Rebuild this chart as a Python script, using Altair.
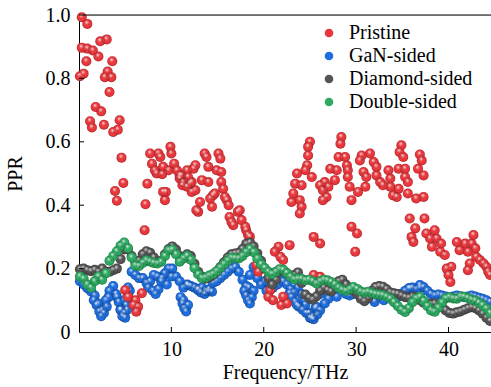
import altair as alt
import pandas as pd

SERIES = ["Pristine", "GaN-sided", "Diamond-sided", "Double-sided"]
COLORS = ["#e8383d", "#1f6fe0", "#555555", "#2eaa62"]

FREQ = [0.1, 0.5, 0.9, 1.3, 1.7, 2.1, 2.5, 2.9, 3.3, 3.7, 4.1, 4.5, 4.9, 5.3, 5.7, 6.1,
        6.5, 6.9, 7.3, 7.7, 8.1, 8.5, 8.9, 9.3, 9.7, 10.1, 10.5, 10.9, 11.3, 11.7, 12.1,
        12.5, 12.9, 13.3, 13.7, 14.1, 14.5, 14.9, 15.3, 15.7, 16.1, 16.5, 16.9, 17.3,
        17.7, 18.1, 18.5, 18.9, 19.3, 19.7, 20.1, 20.5, 20.9, 21.3, 21.7, 22.1, 22.5,
        22.9, 23.3, 23.7, 24.1, 24.5, 24.9, 25.3, 25.7, 26.1, 26.5, 26.9, 27.3, 27.7,
        28.1, 28.5, 28.9, 29.3, 29.7, 30.1, 30.5, 30.9, 31.3, 31.7, 32.1, 32.5, 32.9,
        33.3, 33.7, 34.1, 34.5, 34.9, 35.3, 35.7, 36.1, 36.5, 36.9, 37.3, 37.7, 38.1,
        38.5, 38.9, 39.3, 39.7, 40.1, 40.5, 40.9, 41.3, 41.7, 42.1, 42.5, 42.9, 43.3,
        43.7, 44.1, 44.5]

DOUBLE = [0.175, 0.168, 0.15, 0.14, 0.16, 0.175, 0.165, 0.185, 0.225, 0.24, 0.255, 0.272,
          0.282, 0.265, 0.235, 0.21, 0.208, 0.218, 0.226, 0.222, 0.218, 0.216, 0.222, 0.24,
          0.258, 0.26, 0.245, 0.222, 0.232, 0.24, 0.228, 0.202, 0.182, 0.17, 0.172, 0.178,
          0.183, 0.192, 0.203, 0.214, 0.225, 0.234, 0.233, 0.232, 0.24, 0.252, 0.262, 0.252,
          0.232, 0.214, 0.202, 0.19, 0.183, 0.19, 0.198, 0.196, 0.186, 0.174, 0.166, 0.168,
          0.168, 0.163, 0.165, 0.16, 0.153, 0.16, 0.165, 0.163, 0.158, 0.15, 0.14, 0.133,
          0.13, 0.135, 0.142, 0.136, 0.128, 0.125, 0.127, 0.123, 0.12, 0.118, 0.116, 0.111,
          0.105, 0.094, 0.082, 0.07, 0.063, 0.075, 0.094, 0.106, 0.111, 0.098, 0.082, 0.068,
          0.064, 0.077, 0.093, 0.106, 0.11, 0.106, 0.105, 0.112, 0.111, 0.107, 0.102, 0.099,
          0.092, 0.084, 0.074, 0.06]

DIAMOND = [0.198, 0.2, 0.195, 0.192, 0.196, 0.19, 0.2, 0.19, 0.19, 0.195, 0.2, 0.23,
           0.26, 0.262, 0.24, 0.22, 0.225, 0.245, 0.255, 0.25, 0.235, 0.222, 0.225, 0.245,
           0.262, 0.27, 0.26, 0.24, 0.232, 0.245, 0.24, 0.215, 0.19, 0.175, 0.168, 0.172,
           0.18, 0.19, 0.205, 0.22, 0.235, 0.245, 0.248, 0.25, 0.262, 0.278, 0.282, 0.27,
           0.248, 0.225, 0.2, 0.17, 0.15, 0.165, 0.19, 0.195, 0.185, 0.175, 0.18, 0.188,
           0.155, 0.118, 0.108, 0.102, 0.112, 0.13, 0.14, 0.132, 0.128, 0.145, 0.16, 0.165,
           0.15, 0.138, 0.13, 0.12, 0.105, 0.097, 0.108, 0.13, 0.142, 0.145, 0.143, 0.135,
           0.125, 0.122, 0.12, 0.115, 0.11, 0.108, 0.112, 0.11, 0.1, 0.092, 0.09, 0.088,
           0.09, 0.085, 0.078, 0.068, 0.06, 0.058, 0.062, 0.065, 0.07, 0.075, 0.078, 0.075,
           0.068, 0.058, 0.045, 0.035]

GAN = [0.16, 0.15, 0.138, 0.128, 0.115, 0.09, 0.07, 0.1, 0.13, 0.145, 0.11, 0.07, 0.1,
       0.14, 0.19, 0.18, 0.17, 0.17, 0.155, 0.16, 0.18, 0.175, 0.16, 0.185, 0.2, 0.2,
       0.175, 0.16, 0.14, 0.15, 0.145, 0.14, 0.135, 0.14, 0.13, 0.135, 0.155, 0.16, 0.17,
       0.18, 0.19, 0.2, 0.205, 0.19, 0.165, 0.145, 0.18, 0.205, 0.17, 0.15, 0.16, 0.155,
       0.15, 0.16, 0.175, 0.16, 0.15, 0.135, 0.125, 0.14, 0.12, 0.085, 0.06, 0.05, 0.08,
       0.12, 0.14, 0.135, 0.13, 0.135, 0.14, 0.135, 0.12, 0.115, 0.12, 0.125, 0.12, 0.115,
       0.11, 0.105, 0.11, 0.12, 0.125, 0.12, 0.11, 0.105, 0.11, 0.12, 0.13, 0.138, 0.14,
       0.135, 0.14, 0.142, 0.13, 0.12, 0.115, 0.118, 0.115, 0.112, 0.11, 0.112, 0.115,
       0.113, 0.11, 0.112, 0.115, 0.112, 0.108, 0.105, 0.1, 0.095]

GAN_EXTRA = [(1.6, 0.1), (1.9, 0.085), (2.2, 0.065), (2.4, 0.05), (2.7, 0.06), (3.0, 0.08),
             (3.2, 0.11), (4.0, 0.12), (4.3, 0.095), (4.5, 0.07), (4.7, 0.05), (4.9, 0.06),
             (5.1, 0.085), (5.3, 0.11), (5.5, 0.13), (5.2, 0.07), (5.0, 0.045),
             (7.5, 0.14), (8.0, 0.13), (8.3, 0.12), (8.6, 0.135), (9.0, 0.17), (9.5, 0.15),
             (10.0, 0.175), (11.0, 0.11), (11.2, 0.09), (11.4, 0.075), (11.6, 0.065),
             (11.3, 0.1), (11.8, 0.085), (11.8, 0.148), (12.9, 0.132), (13.2, 0.125),
             (13.6, 0.12), (14.0, 0.128), (14.4, 0.127), (17.9, 0.13), (18.1, 0.115),
             (18.3, 0.1), (18.5, 0.09), (18.7, 0.11), (18.9, 0.13), (18.4, 0.14),
             (20.3, 0.13), (21.0, 0.14), (21.5, 0.15), (22.8, 0.122), (23.0, 0.11),
             (23.4, 0.095), (23.6, 0.085), (23.8, 0.08), (24.2, 0.07), (24.6, 0.06),
             (25.0, 0.045), (25.2, 0.043), (25.4, 0.04), (25.8, 0.055), (26.1, 0.069),
             (26.6, 0.09), (27.0, 0.105), (27.9, 0.111), (24.4, 0.1), (25.6, 0.075),
             (32.0, 0.095), (33.0, 0.1), (36.9, 0.148), (35.8, 0.138)]

PRISTINE = [(0.1, 0.807), (0.3, 0.993), (0.9, 0.972), (0.3, 0.897), (0.5, 0.815), (0.8, 0.854),
            (0.9, 0.894), (1.5, 0.888), (2.1, 0.869), (2.3, 0.917), (3.0, 0.923), (3.6, 0.854),
            (3.1, 0.822), (2.8, 0.804), (3.5, 0.804), (3.3, 0.757), (1.8, 0.71), (2.4, 0.696),
            (1.2, 0.665), (1.4, 0.645), (2.7, 0.654), (4.4, 0.668), (3.7, 0.631), (4.2, 0.638),
            (4.6, 0.55), (4.8, 0.47), (3.9, 0.445), (4.1, 0.414),
            (5.0, 0.132), (5.3, 0.111), (6.8, 0.122), (6.1, 0.1), (6.4, 0.08), (6.2, 0.064),
            (5.9, 0.085), (7.1, 0.321), (7.2, 0.403), (7.4, 0.468),
            (7.7, 0.563), (7.9, 0.531), (8.2, 0.51), (8.4, 0.5), (8.6, 0.563), (8.8, 0.552),
            (9.0, 0.498), (9.1, 0.521), (9.7, 0.51), (9.9, 0.584), (10.0, 0.563), (10.3, 0.531),
            (10.6, 0.51), (10.9, 0.494), (11.2, 0.463), (11.3, 0.473), (11.7, 0.51), (11.8, 0.489),
            (12.0, 0.468), (12.2, 0.473), (12.4, 0.515), (12.6, 0.526), (12.6, 0.447), (13.1, 0.41),
            (12.9, 0.379), (12.7, 0.384), (13.3, 0.479), (13.6, 0.563), (13.8, 0.552), (14.0, 0.521),
            (14.0, 0.473), (14.2, 0.421), (14.4, 0.395), (14.5, 0.431), (14.7, 0.437), (14.9, 0.51),
            (15.1, 0.563), (15.3, 0.547), (15.4, 0.505), (15.4, 0.473), (15.6, 0.452), (15.8, 0.426),
            (16.0, 0.416), (16.2, 0.4), (16.3, 0.363), (16.5, 0.347), (16.7, 0.337), (17.2, 0.379),
            (17.4, 0.384), (17.6, 0.353), (18.0, 0.332), (18.1, 0.321), (18.3, 0.306), (18.5, 0.3),
            (9.1, 0.442), (9.3, 0.416), (9.4, 0.442), (10.9, 0.484), (11.7, 0.458), (12.2, 0.442),
            (11.1, 0.494),
            (19.2, 0.211), (19.4, 0.19), (21.2, 0.253), (21.6, 0.269), (21.8, 0.237), (22.1, 0.227),
            (22.8, 0.274), (20.7, 0.132), (20.5, 0.111), (21.0, 0.1), (21.9, 0.085), (22.1, 0.111),
            (22.5, 0.09),
            (25.0, 0.6), (24.8, 0.584), (28.4, 0.615), (28.3, 0.594), (24.8, 0.557), (24.7, 0.526),
            (24.5, 0.51), (23.6, 0.5), (23.4, 0.468), (24.1, 0.463), (25.2, 0.489), (23.2, 0.437),
            (23.0, 0.41), (23.9, 0.416), (24.1, 0.395), (23.9, 0.374), (28.1, 0.552), (28.8, 0.552),
            (27.2, 0.515), (27.9, 0.51), (29.0, 0.526), (29.1, 0.51), (29.1, 0.489), (27.7, 0.479),
            (26.6, 0.473), (27.0, 0.458), (26.4, 0.447), (26.8, 0.426), (26.4, 0.416), (29.3, 0.458),
            (29.5, 0.416), (30.2, 0.442), (31.0, 0.458), (30.6, 0.557), (30.4, 0.541), (31.5, 0.563),
            (31.9, 0.536), (30.8, 0.505), (31.1, 0.489), (32.2, 0.521), (32.2, 0.494), (26.1, 0.463),
            (25.4, 0.3), (26.1, 0.279), (29.5, 0.332), (30.1, 0.311), (29.9, 0.253), (25.4, 0.18),
            (26.1, 0.174),
            (34.9, 0.589), (34.7, 0.568), (35.1, 0.552), (36.9, 0.56), (37.1, 0.541), (36.7, 0.515),
            (37.3, 0.494), (32.6, 0.473), (33.5, 0.51), (33.7, 0.484), (34.6, 0.515), (35.3, 0.515),
            (35.3, 0.489), (35.6, 0.473), (32.9, 0.463), (33.7, 0.458), (34.6, 0.452), (34.0, 0.431),
            (34.4, 0.426), (35.6, 0.437), (36.5, 0.421), (37.3, 0.426), (35.8, 0.358), (37.4, 0.358),
            (36.4, 0.327), (36.0, 0.3), (36.2, 0.284), (37.6, 0.311), (38.0, 0.295), (38.5, 0.321),
            (38.7, 0.295), (38.2, 0.269), (39.2, 0.279), (39.6, 0.243), (39.1, 0.253), (39.8, 0.2),
            (40.3, 0.206), (40.0, 0.18), (40.2, 0.158), (40.9, 0.284), (41.8, 0.279), (42.7, 0.306),
            (42.5, 0.279), (42.1, 0.253), (42.9, 0.264), (41.2, 0.258), (42.3, 0.216), (42.1, 0.195),
            (43.0, 0.237), (43.4, 0.227), (43.8, 0.216), (44.1, 0.206), (44.3, 0.19), (44.5, 0.18)]

X_TICKS = [10, 20, 30, 40]
Y_TICKS = [0.2, 0.4, 0.6, 0.8]

W, H = 412, 317
FONT = "Liberation Serif"

df_pristine = pd.DataFrame({"f": [p[0] for p in PRISTINE], "v": [p[1] for p in PRISTINE],
                            "series": "Pristine"})
df_gan = pd.DataFrame({"f": FREQ + [p[0] for p in GAN_EXTRA],
                       "v": GAN + [p[1] for p in GAN_EXTRA], "series": "GaN-sided"})
df_diamond = pd.DataFrame({"f": FREQ, "v": DIAMOND, "series": "Diamond-sided"})
df_double = pd.DataFrame({"f": FREQ, "v": DOUBLE, "series": "Double-sided"})

x_enc = alt.X("f:Q", scale=alt.Scale(domain=[0, 44.6], nice=False, zero=False),
              axis=alt.Axis(values=X_TICKS, title="Frequency/THz", tickSize=0, labelPadding=7,
                            titlePadding=3, grid=False, domainColor="black", labelColor="black",
                            titleColor="black", labelFontSize=20, titleFontSize=20,
                            titleFontWeight="normal", labelFont=FONT, titleFont=FONT))
y_enc = alt.Y("v:Q", scale=alt.Scale(domain=[0, 1], nice=False, zero=False),
              axis=alt.Axis(values=[0, 0.2, 0.4, 0.6, 0.8, 1.0],
                            labelExpr="datum.value == 0 ? '0' : format(datum.value, '.1f')",
                            title="PPR", tickSize=0, labelPadding=9, titlePadding=20,
                            grid=False, domainColor="black", labelColor="black",
                            titleColor="black", labelFontSize=20, titleFontSize=20,
                            titleFontWeight="normal", labelFont=FONT, titleFont=FONT))

color_enc = alt.Color("series:N", scale=alt.Scale(domain=SERIES, range=COLORS),
                      sort=SERIES,
                      legend=alt.Legend(title=None, orient="none", legendX=240, legendY=8,
                                        labelFontSize=20, labelFont=FONT, labelColor="black",
                                        symbolSize=75, symbolType="circle", rowPadding=3,
                                        labelOffset=10, padding=0, symbolStrokeWidth=0))

SHINE = {
    "gradient": "radial",
    "x1": 0.42, "y1": 0.3, "r1": 0,
    "x2": 0.5, "y2": 0.5, "r2": 0.5,
    "stops": [
        {"offset": 0, "color": "rgba(255,255,255,0.95)"},
        {"offset": 0.22, "color": "rgba(255,255,255,0.45)"},
        {"offset": 0.45, "color": "rgba(255,255,255,0)"},
        {"offset": 0.8, "color": "rgba(0,0,0,0)"},
        {"offset": 1, "color": "rgba(0,0,0,0.28)"},
    ],
}

SIZE = 100


def spheres(df):
    base = alt.Chart(df).mark_circle(size=SIZE, opacity=1).encode(x=x_enc, y=y_enc, color=color_enc)
    shine = alt.Chart(df).mark_circle(size=SIZE, opacity=1, fill=SHINE).encode(x=x_enc, y=y_enc)
    return [base, shine]


xticks = alt.Chart(pd.DataFrame({"f": X_TICKS})).mark_rule(color="black", strokeWidth=1).encode(
    x=x_enc, y=alt.value(H - 5), y2=alt.value(H))
yticks = alt.Chart(pd.DataFrame({"v": Y_TICKS})).mark_rule(color="black", strokeWidth=1).encode(
    y=y_enc, x=alt.value(0), x2=alt.value(5))
topline = alt.Chart(pd.DataFrame({"v": [1.0]})).mark_rule(color="black", strokeWidth=1).encode(
    y=y_enc, x=alt.value(0), x2=alt.value(W))

layers = []
for d in [df_gan, df_pristine, df_diamond, df_double]:
    layers += spheres(d)

chart = alt.layer(*layers, xticks, yticks, topline).properties(
    width=W, height=H,
    autosize=alt.AutoSizeParams(type="none"),
    padding={"left": 79, "top": 15, "right": 0, "bottom": 55},
).configure_view(stroke=None).configure(font=FONT)

chart.save("out.html", embed_options={"renderer": "svg", "actions": False})
